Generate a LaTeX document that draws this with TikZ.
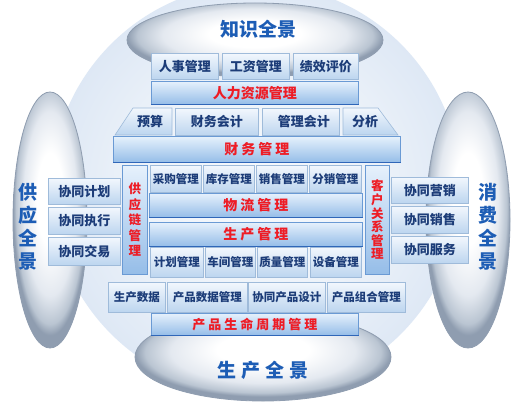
\documentclass[tikz,border=0pt]{standalone}
\usepackage{fontspec}
\newfontfamily\cjk{Noto Sans CJK SC}
\usetikzlibrary{shadings}
\definecolor{navy}{HTML}{1C3C78}
\definecolor{redtxt}{HTML}{EE1C25}
\definecolor{pano}{HTML}{1D5DB5}
\definecolor{boxtop}{HTML}{F2F7FD}
\definecolor{boxbot}{HTML}{BCD5EF}
\definecolor{boxedge}{HTML}{9FBBDA}
\definecolor{bartop}{HTML}{E6F1FC}
\definecolor{barbot}{HTML}{95BDE8}
\definecolor{baredge}{HTML}{6A9AD4}
\definecolor{barline}{HTML}{2F66B8}
\definecolor{glA}{HTML}{E4E9F0}
\definecolor{glB}{HTML}{BAC5D2}
\definecolor{glC}{HTML}{8F9DB0}
\definecolor{bgA}{HTML}{F6F9FD}
\definecolor{bgB}{HTML}{ECF2F9}
\definecolor{bgC}{HTML}{DEE8F5}
\pgfdeclareradialshading{glossy}{\pgfpoint{0bp}{5bp}}{color(0bp)=(white); color(9bp)=(white); color(18bp)=(glA); color(23bp)=(glB); color(25bp)=(glC); color(50bp)=(glC)}
\pgfdeclareradialshading{bgdisc}{\pgfpoint{0bp}{0bp}}{color(0bp)=(bgA); color(15bp)=(bgB); color(25bp)=(bgC); color(50bp)=(bgC)}
\newcommand\ks{\kern 3pt}
\tikzset{
  sub/.style={draw=boxedge, line width=0.6pt, top color=boxtop, bottom color=boxbot,
    inner sep=0pt, anchor=north west, text=navy, font=\cjk\bfseries\fontsize{13}{13}\selectfont},
  subsm/.style={sub, font=\cjk\bfseries\fontsize{11.5}{11.5}\selectfont},
  bar/.style={draw=baredge, line width=0.6pt, top color=bartop, bottom color=barbot,
    inner sep=0pt, anchor=north west, text=redtxt, font=\cjk\bfseries\fontsize{14}{14}\selectfont},
  vbar/.style={bar, align=center},
  barln/.style={draw=barline, line width=1.2pt},
  glass/.style={shading=glossy, draw=glC, line width=0.8pt},
  panotxt/.style={text=pano, font=\cjk\bfseries\fontsize{19}{23}\selectfont, align=center, inner sep=0pt},
  lbl/.style={text=navy, font=\cjk\bfseries\fontsize{13}{13}\selectfont, inner sep=0pt},
}
\begin{document}
\begin{tikzpicture}[x=1pt,y=-1pt]
\useasboundingbox (0,0) rectangle (513,404);
\fill[white] (0,0) rectangle (513,404);
\begin{scope}
\clip (0,0) rectangle (513,404);
\shade[shading=bgdisc] (256,189) circle (205pt);
% panorama ellipses
\shade[glass] (255,40) ellipse [x radius=128pt, y radius=37pt];
\shade[glass] (50,220) ellipse [x radius=37pt, y radius=128pt];
\shade[glass] (468,220) ellipse [x radius=42pt, y radius=128pt];
\shade[glass] (263,357) ellipse [x radius=128pt, y radius=44pt];
\end{scope}
\node[panotxt] (kn) at (258,29) {知识全景};
\node[panotxt] (su) at (28,227) {供\\应\\全\\景};
\node[panotxt] (co) at (488,227) {消\\费\\全\\景};
\node[panotxt] (pr) at (263,370) {生\kern5pt 产\kern5pt 全\kern5pt 景};

% HR
\node[sub, minimum width=67pt, minimum height=26pt] (hr1) at (151,53) {人事管理};
\node[sub, minimum width=67pt, minimum height=26pt] (hr2) at (222,53) {工资管理};
\node[sub, minimum width=65pt, minimum height=26pt] (hr3) at (293,53) {绩效评价};
\node[bar, minimum width=207pt, minimum height=23pt] (hrbar) at (151,81) {人力资源管理};
\draw[barln] (hrbar.south west) -- (hrbar.south east);

% finance
\shade[draw=boxedge, line width=0.6pt, top color=boxtop, bottom color=boxbot] (133,108) -- (172,108) -- (172,135) -- (115,135) -- cycle;
\node[lbl] (fa1) at (150,122) {预算};
\node[sub, minimum width=83pt, minimum height=27pt] (fa2) at (175,108) {财务会计};
\node[sub, minimum width=77pt, minimum height=27pt] (fa3) at (262,108) {\kern6pt 管理会计};
\shade[draw=boxedge, line width=0.6pt, top color=boxtop, bottom color=boxbot] (343,108) -- (378,108) -- (398,135) -- (343,135) -- cycle;
\node[lbl] (fa4) at (365,122) {分析};
\node[bar, minimum width=287pt, minimum height=26pt] (finbar) at (113,136) {财\ks 务\ks 管\ks 理};
\draw[barln] (finbar.south west) -- (finbar.south east);

% left collaboration
\node[sub, minimum width=72pt, minimum height=26pt] (l1) at (48,178) {协同计划};
\node[sub, minimum width=72pt, minimum height=27pt] (l2) at (48,207) {协同执行};
\node[sub, minimum width=72pt, minimum height=28pt] (l3) at (48,237) {协同交易};
\node[vbar, minimum width=25pt, minimum height=109pt, font=\cjk\bfseries\fontsize{12.5}{15.5}\selectfont] (scm) at (122,165) {供\\应\\链\\管\\理};

% logistics sub row
\node[subsm, minimum width=51pt, minimum height=27pt] (g1) at (150,165) {采购管理};
\node[subsm, minimum width=51pt, minimum height=27pt] (g2) at (203,165) {库存管理};
\node[subsm, minimum width=51pt, minimum height=27pt] (g3) at (256,165) {销售管理};
\node[subsm, minimum width=52pt, minimum height=27pt] (g4) at (309,165) {分销管理};
\node[bar, minimum width=213pt, minimum height=24pt] (logbar) at (149,193) {物\ks 流\ks 管\ks 理};
\draw[barln] (logbar.south west) -- (logbar.south east);
\node[bar, minimum width=213pt, minimum height=24pt] (prodbar) at (149,222) {生\ks 产\ks 管\ks 理};
\draw[barln] (prodbar.south west) -- (prodbar.south east);
\node[subsm, minimum width=53pt, minimum height=30pt] (p1) at (150,247) {计划管理};
\node[subsm, minimum width=50pt, minimum height=30pt] (p2) at (205,247) {车间管理};
\node[subsm, minimum width=50pt, minimum height=30pt] (p3) at (257,247) {质量管理};
\node[subsm, minimum width=51pt, minimum height=30pt] (p4) at (310,247) {设备管理};
\node[vbar, minimum width=24pt, minimum height=109pt, font=\cjk\bfseries\fontsize{12.5}{13.6}\selectfont] (crm) at (365,165) {客\\户\\关\\系\\管\\理};

% right collaboration
\node[sub, minimum width=77pt, minimum height=26pt] (r1) at (391,177) {协同营销};
\node[sub, minimum width=77pt, minimum height=27pt] (r2) at (391,206) {协同销售};
\node[sub, minimum width=77pt, minimum height=27pt] (r3) at (391,236) {协同服务};

% product lifecycle
\node[subsm, minimum width=57pt, minimum height=30pt] (b1) at (108,282) {生产数据};
\node[subsm, minimum width=80pt, minimum height=30pt] (b2) at (167,282) {产品数据管理};
\node[subsm, minimum width=77pt, minimum height=30pt] (b3) at (248,282) {协同产品设计};
\node[subsm, minimum width=78pt, minimum height=30pt] (b4) at (327,282) {产品组合管理};
\node[bar, minimum width=207pt, minimum height=22pt, font=\cjk\bfseries\fontsize{13}{13}\selectfont] (plm) at (151,313) {产\ks 品\ks 生\ks 命\ks 周\ks 期\ks 管\ks 理};
\draw[barln] (plm.south west) -- (plm.south east);
\end{tikzpicture}
\end{document}
